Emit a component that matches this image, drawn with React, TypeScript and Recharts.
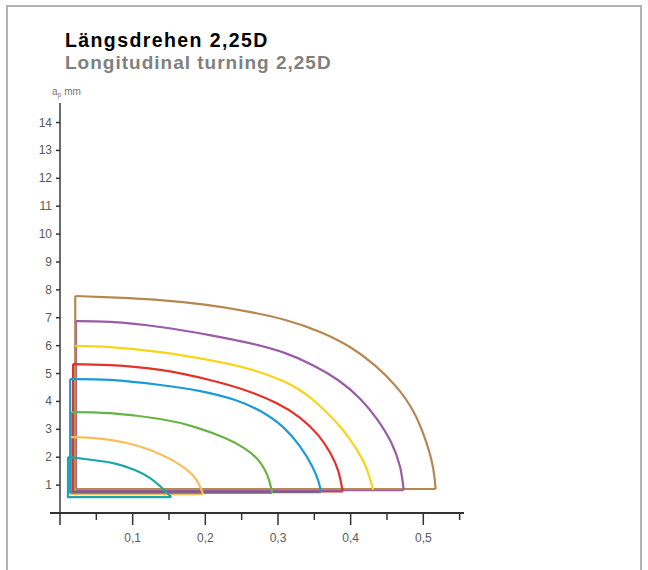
import React from 'react';
import { LineChart, Line, XAxis, YAxis } from 'recharts';

// Vorschub f (mm/U) gegen Schnitttiefe ap (mm)
const xTicks = [0, 0.05, 0.1, 0.15, 0.2, 0.25, 0.3, 0.35, 0.4, 0.45, 0.5, 0.55];
const xLabeled = [0.1, 0.2, 0.3, 0.4, 0.5];
const yTicks = [1, 2, 3, 4, 5, 6, 7, 8, 9, 10, 11, 12, 13, 14];

// Bogen jeweils von oben links bis unten rechts
const tealArc = [[0.011, 2.01], [0.045, 1.9], [0.076, 1.77], [0.103, 1.54], [0.124, 1.25], [0.139, 0.93], [0.149, 0.68], [0.153, 0.57]];
const orangeArc = [[0.015, 2.72], [0.055, 2.67], [0.092, 2.51], [0.124, 2.26], [0.151, 1.94], [0.173, 1.58], [0.188, 1.18], [0.197, 0.68]];
const greenArc = [[0.016, 3.62], [0.069, 3.58], [0.138, 3.37], [0.186, 3.08], [0.227, 2.69], [0.254, 2.32], [0.271, 1.95], [0.282, 1.54], [0.288, 1.15], [0.292, 0.72]];
const blueArc = [[0.014, 4.8], [0.069, 4.77], [0.138, 4.59], [0.193, 4.37], [0.241, 4.05], [0.278, 3.62], [0.307, 3.08], [0.33, 2.4], [0.347, 1.68], [0.356, 1.11], [0.359, 0.75]];
const redArc = [[0.018, 5.34], [0.069, 5.3], [0.138, 5.13], [0.206, 4.77], [0.254, 4.41], [0.297, 3.95], [0.33, 3.42], [0.355, 2.8], [0.372, 2.15], [0.383, 1.5], [0.389, 0.77]];
const yellowArc = [[0.021, 5.99], [0.069, 5.95], [0.138, 5.77], [0.206, 5.48], [0.261, 5.16], [0.307, 4.73], [0.34, 4.23], [0.365, 3.66], [0.387, 3.05], [0.406, 2.37], [0.421, 1.65], [0.431, 0.83]];
const purpleArc = [[0.022, 6.88], [0.069, 6.85], [0.138, 6.67], [0.206, 6.38], [0.261, 6.09], [0.308, 5.75], [0.348, 5.3], [0.383, 4.76], [0.413, 4.1], [0.437, 3.34], [0.456, 2.52], [0.468, 1.66], [0.473, 0.82]];
const brownArc = [[0.021, 7.78], [0.078, 7.72], [0.138, 7.63], [0.199, 7.47], [0.255, 7.24], [0.31, 6.92], [0.358, 6.49], [0.399, 5.95], [0.433, 5.3], [0.462, 4.55], [0.486, 3.66], [0.503, 2.62], [0.513, 1.68], [0.517, 0.86]];

const series = [
  { key: 'teal', color: '#1ba6a8', arc: tealArc },
  { key: 'orange', color: '#fbbd5a', arc: orangeArc },
  { key: 'green', color: '#67b346', arc: greenArc },
  { key: 'blue', color: '#1b9ad6', arc: blueArc },
  { key: 'red', color: '#e2322a', arc: redArc },
  { key: 'yellow', color: '#f8d51a', arc: yellowArc },
  { key: 'purple', color: '#9a5ba7', arc: purpleArc },
  { key: 'brown', color: '#b5884f', arc: brownArc },
];

const toPoints = (arr: number[][]) => arr.map(([f, ap]) => ({ f, ap }));

// linke Kante und Grundlinie aus dem Bogen ableiten
const boxOf = (arr: number[][]) => {
  const [left, top] = arr[0];
  const [right, bottom] = arr[arr.length - 1];
  return toPoints([[right, bottom], [left, bottom], [left, top]]);
};

const near = (a: number, b: number) => Math.abs(a - b) < 1e-6;

const XTick = (props: any) => {
  const { x, y, payload } = props;
  const v = payload.value;
  const major = near(v * 10, Math.round(v * 10));
  const labeled = xLabeled.some(t => near(t, v));
  return (
    <g>
      {near(v, 0) && <line x1={x - 10} y1={y} x2={x} y2={y} stroke="#333" strokeWidth={2} />}
      <line x1={x} y1={y} x2={x} y2={y + (major ? 12 : 7)} stroke="#333" strokeWidth={1.5} />
      {labeled && (
        <text x={x} y={y + 29} textAnchor="middle" fontSize={12} fill="#5a5a5a"
          fontFamily="'Liberation Sans', Arial, sans-serif">
          {v.toFixed(1).replace('.', ',')}
        </text>
      )}
    </g>
  );
};

const YTick = (props: any) => {
  const { x, y, payload } = props;
  return (
    <g>
      <line x1={x - 4} y1={y} x2={x} y2={y} stroke="#333" strokeWidth={1.5} />
      <text x={x - 8} y={y + 4} textAnchor="end" fontSize={12} fill="#5a5a5a"
        fontFamily="'Liberation Sans', Arial, sans-serif">
        {payload.value}
      </text>
    </g>
  );
};

export default function App() {
  return (
    <div style={{ position: 'absolute', left: 0, top: 0, width: 648, height: 570, overflow: 'hidden', background: '#fff' }}>
      <div style={{ position: 'absolute', left: 6, top: 5, width: 636, height: 640, border: '2px solid #b2b2b2', boxSizing: 'border-box' }} />

      <div style={{ position: 'absolute', left: 65, top: 31, fontFamily: "'Liberation Sans', Arial, sans-serif", fontWeight: 'bold', fontSize: 19.5, lineHeight: '19px', letterSpacing: 1.4, color: '#000', whiteSpace: 'nowrap' }}>
        Längsdrehen 2,25D
      </div>
      <div style={{ position: 'absolute', left: 65, top: 53, fontFamily: "'Liberation Sans', Arial, sans-serif", fontWeight: 'bold', fontSize: 19, lineHeight: '19px', letterSpacing: 1, color: '#808080', whiteSpace: 'nowrap' }}>
        Longitudinal turning 2,25D
      </div>
      <div style={{ position: 'absolute', left: 52, top: 86, fontFamily: "'Liberation Sans', Arial, sans-serif", fontSize: 10, lineHeight: '12px', color: '#777', whiteSpace: 'nowrap' }}>
        a<sub style={{ fontSize: 7, verticalAlign: '-2px' }}>p</sub> mm
      </div>

      <div style={{ position: 'absolute', left: 0, top: 0 }}>
        <LineChart width={648} height={570} margin={{ top: 103, right: 184, bottom: 27, left: 0 }}>
          <XAxis
            dataKey="f"
            type="number"
            domain={[0, 0.556]}
            ticks={xTicks}
            interval={0}
            allowDataOverflow
            axisLine={{ stroke: '#333', strokeWidth: 2 }}
            tickLine={false}
            tickSize={0}
            tickMargin={0}
            tick={<XTick />}
            height={30}
          />
          <YAxis
            dataKey="ap"
            type="number"
            domain={[0, 14.7]}
            ticks={yTicks}
            interval={0}
            allowDataOverflow
            axisLine={{ stroke: '#3a3a3a', strokeWidth: 1.5 }}
            tickLine={false}
            tickSize={0}
            tickMargin={0}
            tick={<YTick />}
            width={60}
          />
          {series.map(s => (
            <Line
              key={s.key + '-box'}
              data={boxOf(s.arc)}
              dataKey="ap"
              type="linear"
              stroke={s.color}
              strokeWidth={2.2}
              dot={false}
              activeDot={false}
              isAnimationActive={false}
            />
          ))}
          {series.map(s => (
            <Line
              key={s.key + '-arc'}
              data={toPoints(s.arc)}
              dataKey="ap"
              type="natural"
              stroke={s.color}
              strokeWidth={2.2}
              dot={false}
              activeDot={false}
              isAnimationActive={false}
            />
          ))}
        </LineChart>
      </div>
    </div>
  );
}
